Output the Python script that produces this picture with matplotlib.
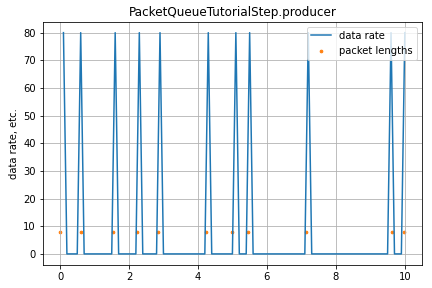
import numpy as np
import matplotlib
matplotlib.use("Agg")
import matplotlib.pyplot as plt

# data rate sampled every 0.1 s, from 0.1 to 10.0
rate_times = np.round(np.arange(1, 101) * 0.1, 1)
rate_values = [
    80, 0, 0, 0, 0, 80, 0, 0, 0, 0,
    0, 0, 0, 0, 0, 80, 0, 0, 0, 0,
    0, 0, 80, 0, 0, 0, 0, 0, 80, 0,
    0, 0, 0, 0, 0, 0, 0, 0, 0, 0,
    0, 0, 80, 0, 0, 0, 0, 0, 0, 0,
    80, 0, 0, 0, 80, 0, 0, 0, 0, 0,
    0, 0, 0, 0, 0, 0, 0, 0, 0, 0,
    0, 80, 0, 0, 0, 0, 0, 0, 0, 0,
    0, 0, 0, 0, 0, 0, 0, 0, 0, 0,
    0, 0, 0, 0, 0, 80, 0, 0, 0, 80,
]

# packet arrival times and lengths
packet_times = [0.0, 0.6, 1.53, 2.23, 2.84, 4.23, 5.0, 5.45, 7.12, 9.62, 9.97]
packet_lengths = [7.8] * len(packet_times)

fig, ax = plt.subplots(figsize=(6, 4), dpi=72)
ax.plot(rate_times, rate_values, label="data rate")
ax.scatter(packet_times, packet_lengths, s=7, color="C1", label="packet lengths")
ax.set_title("PacketQueueTutorialStep.producer")
ax.set_ylabel("data rate, etc.")
ax.grid(True)
ax.legend(loc="upper right")
fig.subplots_adjust(left=0.099, right=0.977, top=0.925, bottom=0.080)
fig.savefig("out.png")
